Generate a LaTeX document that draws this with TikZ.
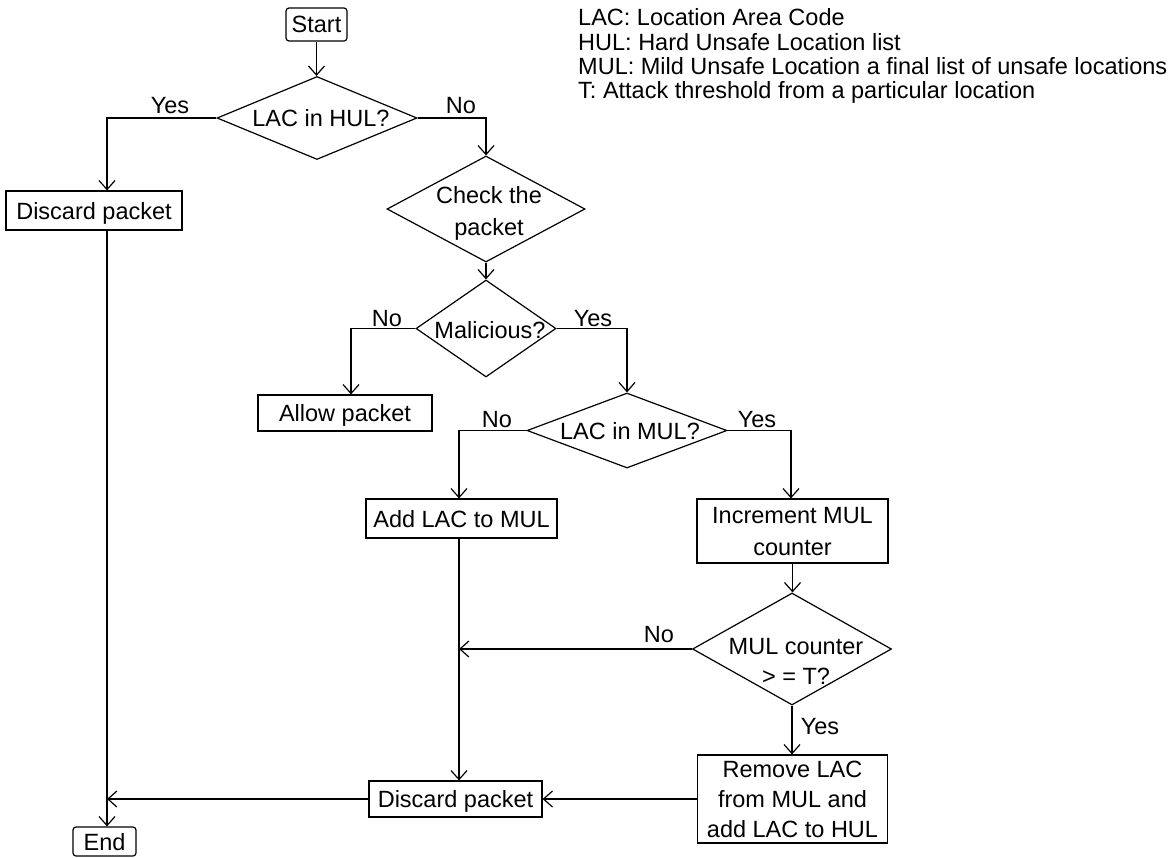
\documentclass[tikz,border=0pt]{standalone}
\usepackage{fontspec}
\setmainfont{Liberation Sans}
\usetikzlibrary{arrows.meta,shapes.geometric}
\begin{document}
\begin{tikzpicture}[x=1pt,y=-1pt,
  every node/.style={font=\fontsize{23.5}{30}\selectfont, text depth=0pt},
  line/.style={line width=1.2pt, draw=black},
  arr/.style={line, -{Straight Barb[length=9pt,width=16pt]}},
  procbox/.style={draw, line width=1.2pt, inner sep=0pt, align=center},
  termbox/.style={procbox, rounded corners=3pt},
  decision/.style={draw, diamond, line width=1.2pt, inner sep=0pt},
  lbl/.style={inner sep=0pt},
]
\useasboundingbox (0,0) rectangle (1174,857);

% legend
\node[lbl, anchor=west] (k1) at (578,17) {LAC: Location Area Code};
\node[lbl, anchor=west] (k2) at (578,42) {HUL: Hard Unsafe Location list};
\node[lbl, anchor=west] (k3) at (578,66) {MUL: Mild Unsafe Location a final list of unsafe locations};
\node[lbl, anchor=west] (k4) at (578,90) {T: Attack threshold from a particular location};

% flow elements
\node[termbox, minimum width=61pt, minimum height=33pt] (start) at (316.5,24.5) {Start};
\node[decision, minimum width=200pt, minimum height=83pt] (hul) at (317,118) {};
\node[lbl] (hult) at (321,118) {LAC in HUL?};
\node[procbox, minimum width=176pt, minimum height=39pt] (drop1) at (94,210.5) {Discard packet};
\node[decision, minimum width=198pt, minimum height=106pt] (chk) at (486,209) {};
\node[lbl, align=center] (chkt) at (489,211) {Check the\\[2pt]packet};
\node[decision, minimum width=140pt, minimum height=97pt] (mal) at (486,328.5) {};
\node[lbl] (malt) at (490,330) {Malicious?};
\node[procbox, minimum width=174pt, minimum height=36pt] (allow) at (345,413) {Allow packet};
\node[decision, minimum width=200pt, minimum height=75pt] (mul) at (627,430.5) {};
\node[lbl] (mult) at (630,431) {LAC in MUL?};
\node[procbox, minimum width=191pt, minimum height=39pt] (add) at (461.5,518.5) {Add LAC to MUL};
\node[procbox, minimum width=191pt, minimum height=64pt] (inc) at (792.5,531) {Increment MUL\\[2pt]counter};
\node[decision, minimum width=199pt, minimum height=112pt] (cnt) at (792,649) {};
\node[lbl, align=center] (cntt) at (796,661) {MUL counter\\> = T?};
\node[procbox, minimum width=190pt, minimum height=88pt] (rem) at (792.5,799) {Remove LAC\\from MUL and\\add LAC to HUL};
\node[procbox, minimum width=173pt, minimum height=36pt] (drop2) at (455.5,799) {Discard packet};
\node[termbox, minimum width=63pt, minimum height=29pt] (end) at (104.5,841.5) {End};

% trunk lines
\coordinate (xl) at (107,0);
\coordinate (xa) at (351,0);
\coordinate (xm) at (459,0);
\coordinate (xi) at (791,0);

% connectors
\draw[arr] (start.south) -- (start.south |- hul.north);
\draw[arr] (hul.west) -| (drop1.north -| xl);
\draw[arr] (hul.east) -| (chk.north);
\draw[arr] (chk.south) -- (mal.north);
\draw[arr] (mal.west) -| (allow.north -| xa);
\draw[arr] (mal.east) -| (mul.north);
\draw[arr] (mul.west) -| (add.north -| xm);
\draw[arr] (mul.east) -| (inc.north -| xi);
\draw[arr] (inc.south) -- (inc.south |- cnt.north);
\draw[arr] (cnt.south) -- (cnt.south |- rem.north);
\draw[arr] (cnt.west) -- (cnt.west -| xm);
\draw[arr] (add.south -| xm) -- (drop2.north -| xm);
\draw[arr] (rem.west) -- (drop2.east);
\draw[arr] (drop2.west) -- (drop2.west -| xl);
\draw[arr] (drop1.south -| xl) -- (end.north -| xl);

% branch labels
\node[lbl] (yes1) at (170,105) {Yes};
\node[lbl] (no1) at (461,105) {No};
\node[lbl] (no2) at (387,318) {No};
\node[lbl] (yes2) at (593,318) {Yes};
\node[lbl] (no3) at (497,419) {No};
\node[lbl] (yes3) at (757,419) {Yes};
\node[lbl] (no4) at (659,634) {No};
\node[lbl] (yes4) at (820,726) {Yes};
\end{tikzpicture}
\end{document}
